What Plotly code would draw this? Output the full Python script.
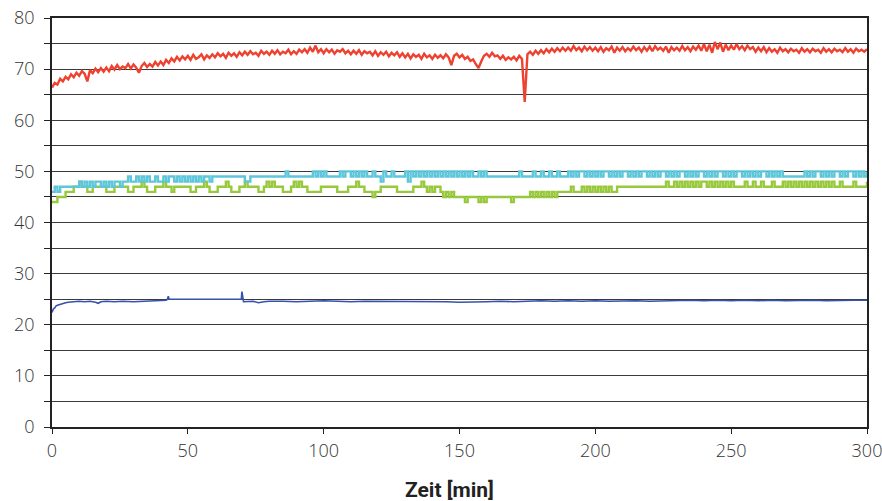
import plotly.graph_objects as go

minutes = list(range(301))

red_vals = [
    66.4, 67.3, 67.0, 68.1, 67.6, 68.5, 68.0, 69.0, 68.4, 69.3,
    68.7, 69.6, 69.1, 67.6, 69.8, 69.2, 70.1, 69.4, 70.2, 69.5,
    70.3, 69.6, 70.6, 69.9, 70.8, 70.0, 70.5, 70.2, 71.0, 70.1,
    70.9, 70.3, 69.3, 70.6, 71.2, 70.4, 71.0, 70.5, 71.4, 70.7,
    71.5, 70.8, 71.8, 71.2, 72.1, 71.5, 72.4, 71.7, 72.5, 71.9,
    72.6, 71.8, 72.8, 72.0, 72.3, 72.9, 71.9, 72.7, 72.2, 72.9,
    72.3, 73.1, 72.5, 73.0, 72.2, 73.2, 72.6, 73.1, 72.4, 73.3,
    72.7, 73.4, 72.8, 73.5, 72.9, 73.2, 72.6, 73.6, 73.0, 73.4,
    72.8, 73.6, 73.0, 73.7, 72.9, 73.4, 73.1, 73.8, 72.9, 73.5,
    73.0, 73.8, 73.3, 73.9, 73.2, 74.2, 73.4, 74.6, 73.3, 73.9,
    73.1, 73.9, 73.3, 73.8, 73.0, 73.7, 73.4, 73.9, 73.1, 73.6,
    72.9, 73.6, 73.0, 73.7, 72.8, 73.5, 73.1, 73.4, 72.7, 73.5,
    72.6, 73.3, 72.8, 73.4, 72.5, 73.2, 72.7, 73.3, 72.4, 73.1,
    72.3, 73.0, 72.1, 72.9, 72.4, 72.8, 72.0, 73.0, 72.3, 72.7,
    72.0, 72.8, 72.2, 72.7, 72.1, 72.9, 72.3, 70.8, 72.6, 73.0,
    72.3, 72.8, 72.0, 72.4, 71.6, 71.9, 71.0, 70.2, 71.5, 72.6,
    73.0, 72.4, 73.2, 72.5, 72.7, 72.0, 72.6, 71.8, 72.3, 71.9,
    72.4, 71.7, 72.6, 72.0, 63.6, 72.9, 73.4, 72.8, 73.6, 73.0,
    73.7, 73.1, 73.9, 73.3, 74.0, 73.4, 74.1, 73.5, 74.2, 73.6,
    74.2, 73.6, 74.5, 73.7, 74.2, 73.5, 74.4, 73.7, 74.3, 73.6,
    74.2, 73.5, 74.3, 73.4, 74.1, 73.7, 74.4, 73.2, 74.2, 73.6,
    74.3, 73.5, 74.1, 73.6, 74.4, 73.7, 74.2, 73.4, 74.3, 73.6,
    74.4, 73.5, 74.5, 73.8, 74.2, 73.6, 74.4, 73.2, 74.3, 73.7,
    74.2, 73.6, 74.5, 73.7, 74.3, 73.5, 74.4, 73.8, 74.6, 73.6,
    74.9, 73.5, 74.8, 73.2, 75.3, 73.9, 75.2, 73.4, 74.8, 73.7,
    74.6, 73.8, 74.9, 73.9, 74.5, 73.7, 74.6, 73.9, 74.3, 73.4,
    74.2, 73.5, 74.3, 73.3, 74.1, 73.4, 73.9, 73.2, 74.2, 73.5,
    73.9, 73.3, 74.0, 73.5, 73.8, 73.2, 74.1, 73.4, 73.9, 73.3,
    74.0, 73.5, 73.8, 73.2, 74.1, 73.4, 73.9, 73.3, 74.0, 73.5,
    73.8, 73.3, 74.1, 73.4, 73.9, 73.2, 74.0, 73.5, 73.8, 73.4, 73.9,
]

cyan_vals = [
    46, 47, 46, 47, 47, 47, 47, 47, 47, 47,
    48, 47, 48, 47, 48, 47, 48, 48, 47, 48,
    47, 48, 47, 48, 48, 47, 48, 48, 49, 48,
    48, 49, 48, 49, 48, 49, 48, 48, 49, 48,
    48, 49, 48, 49, 49, 48, 49, 48, 49, 48,
    49, 48, 49, 48, 49, 48, 49, 49, 48, 49,
    49, 49, 49, 49, 49, 49, 49, 49, 49, 49,
    49, 48, 48, 49, 49, 49, 49, 49, 49, 49,
    49, 49, 49, 49, 49, 49, 50, 49, 49, 49,
    49, 49, 49, 49, 49, 49, 50, 49, 50, 49,
    50, 49, 49, 49, 49, 49, 50, 49, 50, 50,
    49, 50, 49, 50, 49, 50, 49, 49, 50, 49,
    49, 48, 50, 49, 49, 50, 49, 49, 49, 49,
    50, 48, 50, 49, 50, 49, 50, 49, 50, 49,
    50, 49, 50, 49, 50, 49, 50, 49, 50, 49,
    50, 49, 50, 49, 50, 49, 49, 50, 49, 50,
    49, 49, 49, 49, 49, 49, 49, 49, 49, 49,
    49, 49, 50, 49, 49, 49, 49, 50, 49, 49,
    50, 49, 49, 50, 49, 49, 50, 49, 49, 49,
    50, 49, 50, 49, 50, 50, 49, 50, 49, 50,
    49, 50, 49, 50, 50, 49, 50, 49, 50, 49,
    50, 50, 49, 50, 49, 50, 49, 50, 50, 49,
    50, 49, 50, 49, 50, 50, 49, 50, 49, 50,
    49, 50, 50, 49, 50, 49, 50, 49, 50, 50,
    49, 50, 49, 50, 49, 50, 50, 49, 50, 49,
    50, 49, 50, 50, 49, 50, 49, 50, 49, 50,
    49, 50, 50, 49, 50, 49, 50, 49, 50, 49,
    49, 49, 49, 49, 49, 49, 49, 50, 49, 50,
    49, 50, 50, 49, 50, 49, 50, 49, 50, 50,
    49, 50, 49, 50, 50, 49, 50, 49, 50, 49, 50,
]

green_vals = [
    44, 44, 45, 45, 45, 46, 46, 46, 47, 47,
    48, 47, 47, 46, 46, 47, 47, 47, 47, 47,
    46, 46, 46, 47, 47, 47, 47, 47, 46, 46,
    47, 47, 47, 48, 47, 46, 46, 46, 47, 47,
    47, 48, 47, 47, 46, 47, 47, 47, 47, 47,
    47, 46, 46, 47, 47, 47, 48, 47, 46, 46,
    46, 47, 47, 47, 48, 47, 46, 46, 46, 47,
    47, 48, 47, 47, 47, 47, 46, 46, 47, 48,
    47, 48, 47, 47, 47, 46, 46, 46, 47, 48,
    47, 48, 47, 47, 46, 46, 46, 46, 46, 47,
    47, 47, 47, 47, 47, 46, 46, 46, 46, 47,
    47, 47, 48, 47, 47, 46, 46, 46, 45, 46,
    46, 47, 47, 47, 47, 47, 47, 46, 46, 46,
    46, 46, 46, 47, 47, 47, 48, 47, 46, 47,
    46, 47, 47, 46, 45, 46, 45, 46, 45, 45,
    45, 45, 44, 45, 45, 45, 45, 44, 45, 44,
    45, 45, 45, 45, 45, 45, 45, 45, 45, 44,
    45, 45, 45, 45, 45, 45, 46, 45, 46, 45,
    46, 45, 46, 45, 46, 45, 46, 46, 46, 46,
    46, 47, 46, 46, 46, 47, 46, 47, 46, 47,
    46, 47, 46, 47, 46, 47, 46, 46, 47, 47,
    47, 47, 47, 47, 47, 47, 47, 47, 47, 47,
    47, 47, 47, 47, 47, 47, 48, 47, 47, 48,
    47, 48, 47, 48, 47, 48, 47, 48, 47, 48,
    48, 47, 48, 47, 48, 47, 48, 47, 48, 47,
    48, 47, 47, 47, 47, 48, 47, 47, 48, 47,
    47, 48, 47, 47, 47, 48, 47, 47, 47, 48,
    47, 48, 47, 48, 47, 48, 47, 48, 47, 48,
    47, 48, 47, 48, 47, 48, 47, 48, 47, 47,
    48, 47, 47, 47, 47, 48, 47, 47, 47, 47, 48,
]

blue_t = [0, 0.5, 1, 1.5, 2, 3, 4, 5, 6, 8, 10, 12, 14, 16, 17, 18, 20, 23, 26, 30,
          34, 38, 42, 42.5, 42.8, 43.1, 46, 50, 54, 58, 62, 66, 69.7, 69.9, 70.2, 70.5,
          74, 76, 78, 80, 85, 90, 95, 100, 105, 110, 115, 120, 125, 130, 135, 140, 145,
          150, 155, 160, 165, 170, 175, 180, 185, 190, 195, 200, 205, 210, 215, 220, 225,
          230, 235, 240, 245, 250, 255, 260, 265, 270, 275, 280, 285, 290, 295, 300]
blue_vals = [22.4, 23.1, 23.3, 23.7, 23.8, 24.0, 24.2, 24.3, 24.4, 24.5, 24.6, 24.5, 24.6, 24.4,
             24.2, 24.5, 24.6, 24.5, 24.6, 24.5, 24.6, 24.7, 24.8, 25.0, 25.6, 25.0, 25.0,
             24.9, 25.0, 24.9, 25.0, 24.9, 25.0, 26.5, 25.0, 24.5, 24.6, 24.3, 24.5, 24.6,
             24.6, 24.5, 24.6, 24.7, 24.6, 24.5, 24.6, 24.6, 24.5, 24.6, 24.5, 24.6, 24.5,
             24.4, 24.4, 24.5, 24.6, 24.5, 24.6, 24.7, 24.6, 24.7, 24.6, 24.7, 24.6, 24.7,
             24.7, 24.6, 24.7, 24.7, 24.8, 24.7, 24.8, 24.7, 24.8, 24.7, 24.8, 24.7, 24.8,
             24.8, 24.7, 24.8, 24.8, 24.8]

assert len(red_vals) == 301 and len(cyan_vals) == 301 and len(green_vals) == 301
assert len(blue_t) == len(blue_vals)

y_ticks = [0, 10, 20, 30, 40, 50, 60, 70, 80]
x_ticks = [0, 50, 100, 150, 200, 250, 300]
x_title = "Zeit [min]"

fig = go.Figure()
fig.add_trace(go.Scatter(x=minutes, y=green_vals, mode="lines", line_shape="hv",
                         line=dict(color="#98C93C", width=2.4)))
fig.add_trace(go.Scatter(x=minutes, y=cyan_vals, mode="lines", line_shape="hv",
                         line=dict(color="#5CC6DA", width=2.4)))
fig.add_trace(go.Scatter(x=blue_t, y=blue_vals, mode="lines",
                         line=dict(color="#3553AC", width=1.6)))
fig.add_trace(go.Scatter(x=minutes, y=red_vals, mode="lines",
                         line=dict(color="#EE4130", width=2.4)))

tick_font = dict(family="Open Sans", size=18, color="#333333", weight=300)

fig.update_layout(
    width=882, height=501,
    margin=dict(l=52, r=15, t=18, b=74, autoexpand=False),
    paper_bgcolor="white", plot_bgcolor="white",
    showlegend=False,
    xaxis=dict(range=[0, 300], tickvals=x_ticks, ticktext=[str(v) for v in x_ticks],
               showgrid=False, zeroline=False, automargin=False,
               showline=True, linecolor="#222222", linewidth=1.5, mirror=True,
               ticks="outside", ticklen=5, tickcolor="#222222",
               tickfont=tick_font, ticklabeloverflow="allow", ticklabelstandoff=2),
    yaxis=dict(range=[0, 80], tickvals=y_ticks, ticktext=[str(v) for v in y_ticks],
               showgrid=True, gridcolor="#3a3a3a", gridwidth=1,
               zeroline=False, automargin=False,
               showline=True, linecolor="#222222", linewidth=1.5, mirror=True,
               ticks="outside", ticklen=6, tickcolor="#222222",
               tickfont=tick_font, ticklabeloverflow="allow", ticklabelstandoff=6,
               minor=dict(dtick=5, tick0=0, showgrid=True, gridcolor="#3a3a3a", gridwidth=1,
                          ticks="outside", ticklen=6, tickcolor="#222222")),
    annotations=[dict(text="<b>" + x_title + "</b>", xref="paper", yref="paper",
                      x=0.488, y=-0.154, xanchor="center", yanchor="middle",
                      showarrow=False,
                      font=dict(family="Roboto", size=21, color="#222222"))],
)

fig.write_html("out.html", config={"displayModeBar": False},
               post_script="document.body.style.margin='0px';")
